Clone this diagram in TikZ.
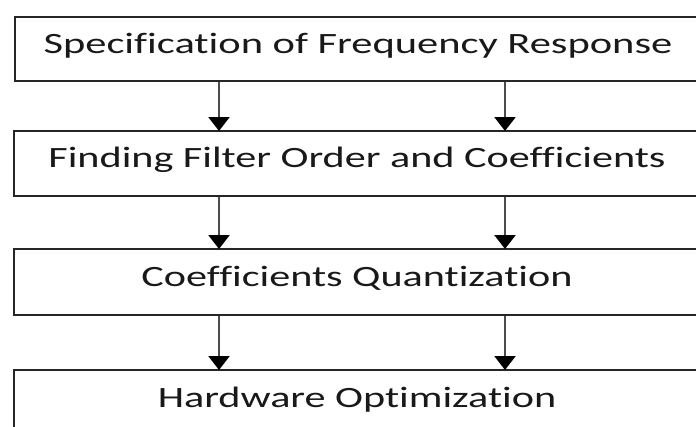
\documentclass[tikz,border=0pt]{standalone}
\usepackage{fontspec}
\setmainfont{Carlito}[Ligatures={NoCommon}]
\usepackage{graphicx}
\usetikzlibrary{positioning, arrows.meta}

\begin{document}
\begin{tikzpicture}[
        x=1pt, y=-1pt,
        font=\fontsize{29.5}{30}\selectfont,
        block/.style={rectangle, draw=black!85, fill=white, anchor=north west,
          minimum width=686, minimum height=65, text height=20, text depth=12,
          line width=2pt, text=black!90},
        line/.style={draw=black!70, -{Triangle[width=21pt, length=14pt, color=black]},
          line width=2.4pt, shorten >=-1pt}
      ]
      \useasboundingbox (0, 0) rectangle (696, 426);
      \clip (0, 0) rectangle (696, 426);

      \node [block, minimum height=64] (spec) at (14, 16)
      {\scalebox{1.44}[1]{Specification of Frequency Response}};
      \node [block] (order) at (13, 130)
      {\scalebox{1.43}[1]{Finding Filter Order and Coefficients}};
      \node [block, minimum height=66] (quant) at (13, 248)
      {\scalebox{1.43}[1]{Coefficients Quantization}};
      \node [block, minimum height=66] (hw) at (13, 369)
      {\scalebox{1.43}[1]{Hardware Optimization}};

      % two arrows between each pair of stages
      \coordinate (lx) at (219, 0);
      \coordinate (rx) at (505, 0);

      \path [line] (spec.south -| lx) -- (order.north -| lx);
      \path [line] (spec.south -| rx) -- (order.north -| rx);
      \path [line] (order.south -| lx) -- (quant.north -| lx);
      \path [line] (order.south -| rx) -- (quant.north -| rx);
      \path [line] (quant.south -| lx) -- (hw.north -| lx);
      \path [line] (quant.south -| rx) -- (hw.north -| rx);

    \end{tikzpicture}
\end{document}
